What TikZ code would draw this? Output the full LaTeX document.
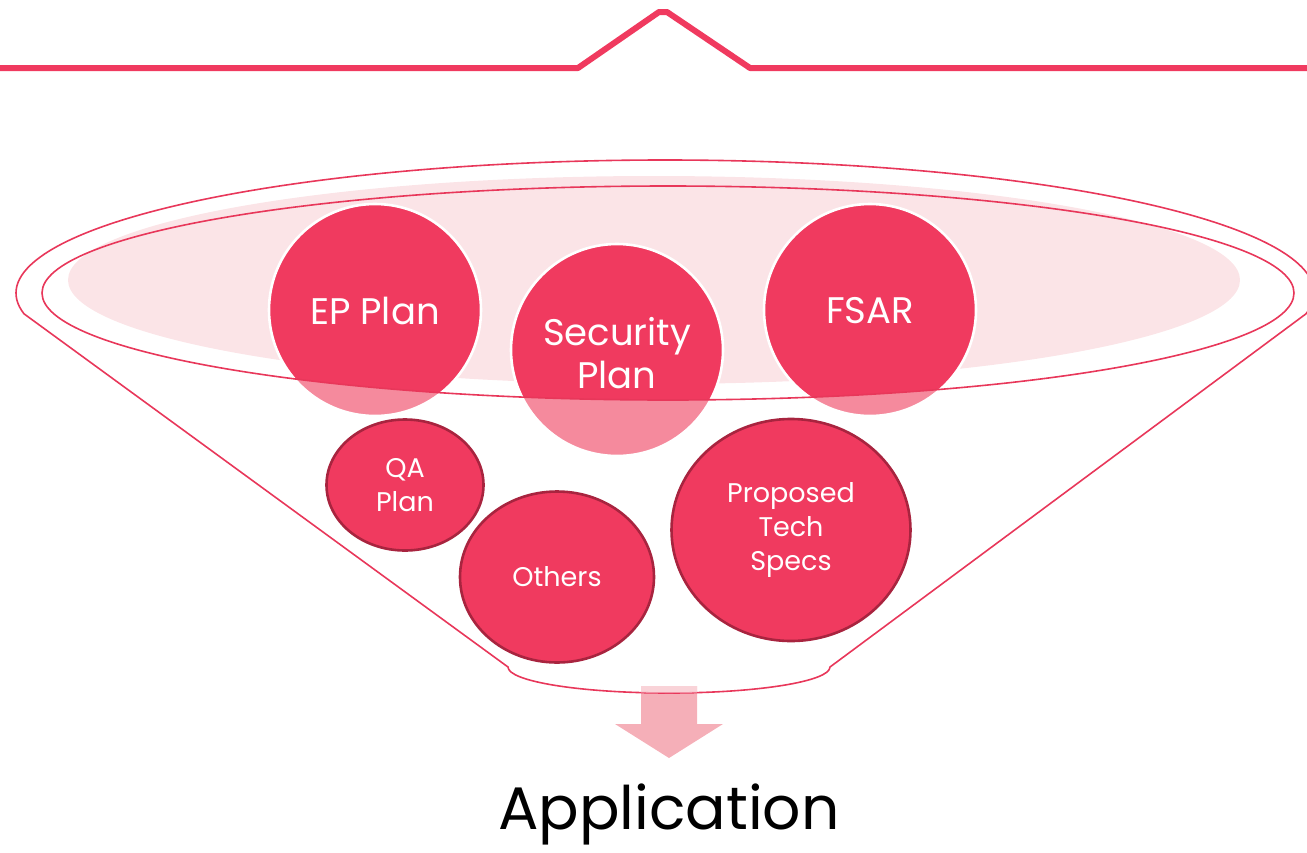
\documentclass[tikz,border=0pt]{standalone}
\usepackage{fontspec}
\setmainfont{Poppins}
\usetikzlibrary{shapes.geometric}
\definecolor{rosered}{HTML}{F03A5F}
\definecolor{rosefade}{HTML}{F58A9D}
\definecolor{roseline}{HTML}{E8375A}
\definecolor{roseedge}{HTML}{A8243F}
\definecolor{blush}{HTML}{FBE4E7}
\definecolor{arrowpink}{HTML}{F5AFB8}
\tikzset{
  funnelline/.style={draw=roseline, line width=1.6pt},
  toptext/.style={text=white, font=\fontsize{37}{43}\selectfont, align=center},
  lowtext/.style={text=white, font=\fontsize{27}{34}\selectfont, align=center},
  lowball/.style={ellipse, fill=rosered, draw=roseedge, line width=2.6pt, inner sep=0pt},
}
\begin{document}
\begin{tikzpicture}[x=1pt,y=-1pt]
\useasboundingbox (0,0) rectangle (1307,852);
% top line
\draw[rosered, line width=6pt, line join=round] (0,68) -- (578,68) -- (659,12) -- (667,12) -- (750,68) -- (1307,68);
% pink inner fill
\fill[blush] (654,280) ellipse[x radius=586pt, y radius=104pt];
% top circles, faded then full inside the rim
\foreach \cx/\cy in {375/310, 617/350, 870/310}{
  \fill[rosefade] (\cx,\cy) circle[radius=106pt];
}
\begin{scope}
  \clip (668,293) ellipse[x radius=626pt, y radius=107pt];
  \foreach \cx/\cy in {375/310, 617/350, 870/310}{
    \fill[rosered] (\cx,\cy) circle[radius=106pt];
  }
\end{scope}
\foreach \cx/\cy in {375/310, 617/350, 870/310}{
  \draw[white, line width=2.6pt] (\cx,\cy) circle[radius=106pt];
}
% inner rim
\draw[funnelline] (668,293) ellipse[x radius=626pt, y radius=107pt];
% arrow
\fill[arrowpink] (641,686) -- (697,686) -- (697,724) -- (723,724) -- (669,758) -- (615,724) -- (641,724) -- cycle;
% funnel outline
\draw[funnelline] (665,293) ++(-9:649pt and 133pt) coordinate (rs)
  arc[start angle=-9, end angle=189, x radius=649pt, y radius=133pt] coordinate (ls)
  -- (508,667) arc[start angle=180, end angle=360, x radius=161pt, y radius=26pt] coordinate (br)
  -- (rs);
\begin{scope}
  \clip (508,667) arc[start angle=180, end angle=360, x radius=161pt, y radius=26pt] -- (830,600) -- (508,600) -- cycle;
  \fill[white, opacity=0.45] (641,680) rectangle (697,700);
\end{scope}
% text in top circles
\node[toptext] (ep) at (375,311) {EP Plan};
\node[toptext] (sec) at (617,353) {Security\\Plan};
\node[toptext] (fsar) at (870,311) {FSAR};
% lower balls
\node[lowball, minimum width=157pt, minimum height=131pt, lowtext] (qa) at (405,485) {QA\\Plan};
\node[lowball, minimum width=194pt, minimum height=171pt, lowtext] (oth) at (557,577) {Others};
\node[lowball, minimum width=239pt, minimum height=222pt, lowtext] (pts) at (791,530) {Proposed\\Tech\\Specs};
% result
\node[font=\fontsize{60}{68}\selectfont, text=black, anchor=base, inner sep=0pt] (app) at (669,829) {Application};
\end{tikzpicture}
\end{document}
